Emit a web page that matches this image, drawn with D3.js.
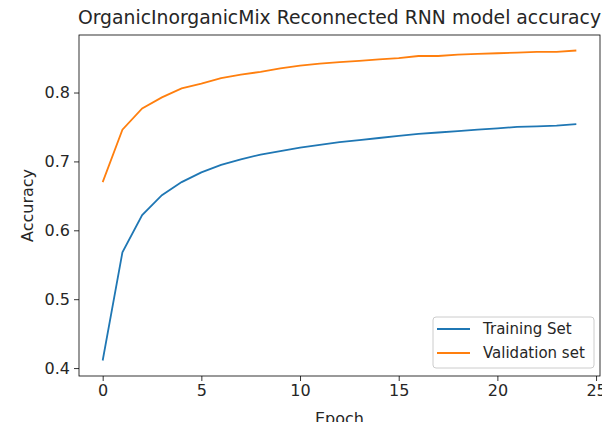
<!DOCTYPE html>
<html>
<head>
<meta charset="utf-8">
<script src="https://cdn.jsdelivr.net/npm/d3@7"></script>
<style>
  body { margin: 0; background: #fff; }
  svg text { font-family: "DejaVu Sans", sans-serif; fill: #262626; }
</style>
</head>
<body>
<div id="chart"></div>
<script>
var epochs = d3.range(0, 25);
var training = [0.411, 0.568, 0.622, 0.651, 0.670, 0.684, 0.695, 0.703, 0.710, 0.715,
    0.720, 0.724, 0.728, 0.731, 0.734, 0.737, 0.740, 0.742, 0.744, 0.746,
    0.748, 0.750, 0.751, 0.752, 0.754];
var validation = [0.670, 0.746, 0.777, 0.793, 0.806, 0.813, 0.821, 0.826, 0.830, 0.835,
    0.839, 0.842, 0.844, 0.846, 0.848, 0.850, 0.853, 0.853, 0.855, 0.856,
    0.857, 0.858, 0.859, 0.859, 0.861];
var xTicks = [0, 5, 10, 15, 20, 25];
var yTicks = [0.4, 0.5, 0.6, 0.7, 0.8];
var seriesNames = ['Training Set', 'Validation set'];
var colors = ['#1f77b4', '#ff7f0e'];

var width = 602,
    height = 422,
    margin = {left: 79, right: 2, top: 35, bottom: 46};

var svg = d3.select('#chart')
    .append('svg')
    .attr('width', width)
    .attr('height', height);

var x = d3.scaleLinear()
    .domain([-1.2, 25.2])
    .range([margin.left, width - margin.right]);

var allVals = training.concat(validation),
    lo = d3.min(allVals), hi = d3.max(allVals), pad = (hi - lo) * 0.05;
var y = d3.scaleLinear()
    .domain([lo - pad, hi + pad])
    .range([height - margin.bottom, margin.top]);

// axes
svg.append('g')
    .attr('transform', 'translate(0,' + (height - margin.bottom) + ')')
    .call(d3.axisBottom(x).tickValues(xTicks).tickSize(5).tickPadding(4).tickFormat(d3.format('d')))
    .call(function(g) { g.select('.domain').remove(); });

svg.append('g')
    .attr('transform', 'translate(' + margin.left + ',0)')
    .call(d3.axisLeft(y).tickValues(yTicks).tickSize(5).tickPadding(4).tickFormat(d3.format('.1f')))
    .call(function(g) { g.select('.domain').remove(); });

svg.selectAll('.tick text').style('font-size', '16px').attr('fill', '#262626');
svg.selectAll('.tick line').attr('stroke', '#000').attr('stroke-width', 0.8);

// frame
svg.append('rect')
    .attr('x', margin.left)
    .attr('y', margin.top)
    .attr('width', width - margin.right - margin.left)
    .attr('height', height - margin.bottom - margin.top)
    .attr('fill', 'none')
    .attr('stroke', '#000')
    .attr('stroke-width', 0.8);

var line = d3.line()
    .x(function(d, i) { return x(epochs[i]); })
    .y(function(d) { return y(d); });

[training, validation].forEach(function(s, i) {
    svg.append('path')
        .datum(s)
        .attr('fill', 'none')
        .attr('stroke', colors[i])
        .attr('stroke-width', 1.8)
        .attr('d', line);
});

// title and labels
svg.append('text')
    .attr('x', (margin.left + width - margin.right) / 2)
    .attr('y', 24)
    .attr('text-anchor', 'middle')
    .style('font-size', '18.8px')
    .text('OrganicInorganicMix Reconnected RNN model accuracy');

svg.append('text')
    .attr('x', (margin.left + width - margin.right) / 2)
    .attr('y', 424)
    .attr('text-anchor', 'middle')
    .style('font-size', '16px')
    .text('Epoch');

svg.append('text')
    .attr('transform', 'translate(33,' + ((margin.top + height - margin.bottom) / 2) + ') rotate(-90)')
    .attr('text-anchor', 'middle')
    .style('font-size', '16px')
    .text('Accuracy');

// legend
var legend = svg.append('g').attr('transform', 'translate(433,317)');
legend.append('rect')
    .attr('width', 161)
    .attr('height', 51)
    .attr('rx', 3)
    .attr('fill', '#fff')
    .attr('fill-opacity', 0.8)
    .attr('stroke', '#ccc');
seriesNames.forEach(function(name, i) {
    legend.append('line')
        .attr('x1', 4).attr('x2', 37)
        .attr('y1', 12 + i * 24).attr('y2', 12 + i * 24)
        .attr('stroke', colors[i])
        .attr('stroke-width', 1.8);
    legend.append('text')
        .attr('x', 50)
        .attr('y', 17 + i * 24)
        .style('font-size', '15px')
        .text(name);
});
</script>
</body>
</html>
